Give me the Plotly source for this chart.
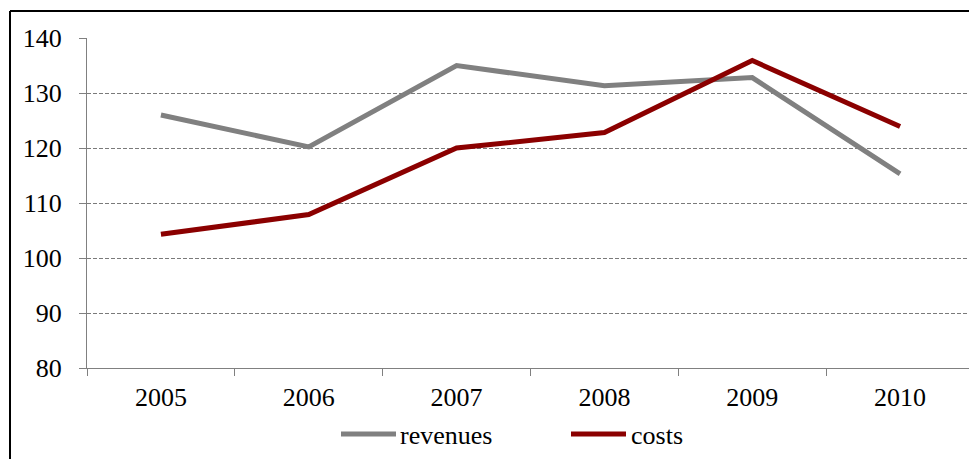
import plotly.graph_objects as go

years = ["2005", "2006", "2007", "2008", "2009", "2010"]
revenues = [126.0, 120.2, 135.0, 131.3, 132.8, 115.3]
costs = [104.3, 107.9, 120.0, 122.8, 135.9, 123.9]
y_ticks = [80, 90, 100, 110, 120, 130, 140]

GRAY = "#808080"
RED = "#8B0000"
FONT = "'Times New Roman', 'Liberation Serif', 'DejaVu Serif', serif"

OFF = 8  # default page body margin
W, H = 977 - OFF, 459 - OFF
L, T = 87 - OFF, 38 - OFF
R = W - (974 - OFF)
B = H - (368 - OFF)
PW, PH = W - L - R, H - T - B

def px(x):
    return (x - OFF - L) / PW

def py(y):
    return (H - B - (y - OFF)) / PH

fig = go.Figure()
fig.add_trace(go.Scatter(x=years, y=revenues, mode="lines", name="revenues",
                         line=dict(color=GRAY, width=5), showlegend=False))
fig.add_trace(go.Scatter(x=years, y=costs, mode="lines", name="costs",
                         line=dict(color=RED, width=5), showlegend=False))

shapes = [
    dict(type="line", xref="paper", yref="paper", x0=px(10), x1=px(990), y0=py(11), y1=py(11),
         line=dict(color="black", width=2)),
    dict(type="line", xref="paper", yref="paper", x0=px(10), x1=px(10), y0=py(11), y1=py(470),
         line=dict(color="black", width=2)),
    dict(type="line", xref="paper", yref="paper", x0=px(341), x1=px(396), y0=py(434), y1=py(434),
         line=dict(color=GRAY, width=5)),
    dict(type="line", xref="paper", yref="paper", x0=px(571), x1=px(626), y0=py(434), y1=py(434),
         line=dict(color=RED, width=5)),
]
annotations = [
    dict(text="revenues", xref="paper", yref="paper", x=px(398), y=py(435), xanchor="left",
         yanchor="middle", showarrow=False, font=dict(family=FONT, size=26, color="black")),
    dict(text="costs", xref="paper", yref="paper", x=px(629), y=py(435), xanchor="left",
         yanchor="middle", showarrow=False, font=dict(family=FONT, size=26, color="black")),
]

fig.update_layout(
    width=W, height=H,
    margin=dict(l=L, r=R, t=T, b=B),
    paper_bgcolor="white", plot_bgcolor="white",
    font=dict(family=FONT, size=26, color="black"),
    shapes=shapes, annotations=annotations,
    xaxis=dict(type="category", range=[-0.5, 5.5], showgrid=False,
               showline=True, linecolor=GRAY, linewidth=1,
               ticks="outside", ticklen=7, tickcolor=GRAY, tickson="boundaries",
               ticklabelstandoff=6, tickfont=dict(family=FONT, size=26)),
    yaxis=dict(range=[80, 140], tickvals=y_ticks, showgrid=True, gridcolor="#7a7a7a",
               gridwidth=1, griddash="4px,2px", showline=True, linecolor=GRAY, linewidth=1,
               ticks="outside", ticklen=7, tickcolor=GRAY, zeroline=False,
               ticklabelstandoff=12, tickfont=dict(family=FONT, size=26)),
)

fig.write_html("out.html")
